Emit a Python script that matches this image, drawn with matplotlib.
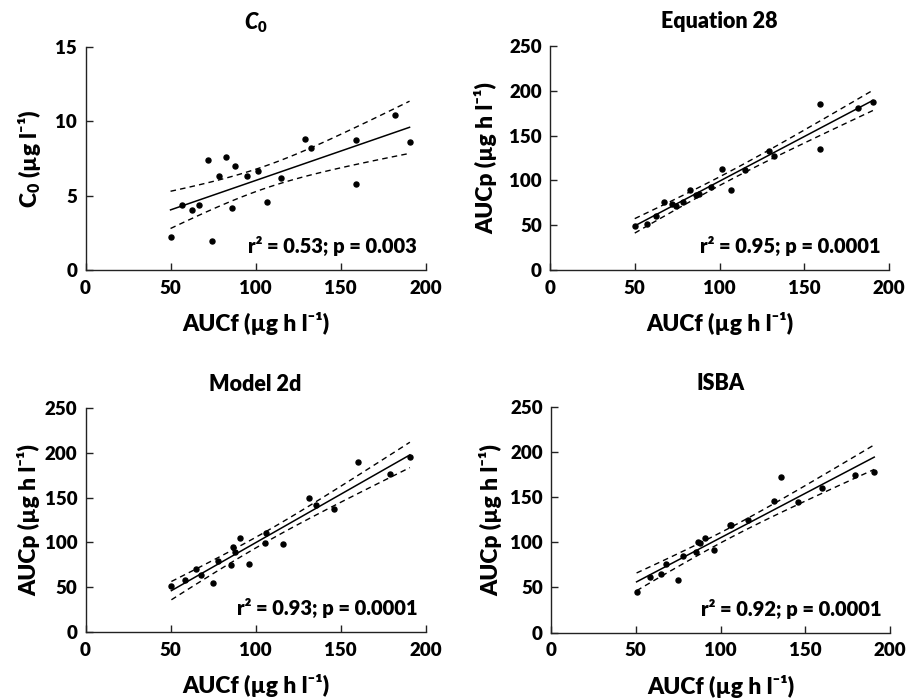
import numpy as np
import matplotlib
matplotlib.use("Agg")
import matplotlib.pyplot as plt

FAM = 'Lato'
WT = 800
plt.rcParams['font.family'] = FAM
plt.rcParams['font.weight'] = WT
plt.rcParams['mathtext.fontset'] = 'custom'
plt.rcParams['mathtext.rm'] = 'Lato:heavy'
plt.rcParams['mathtext.bf'] = 'Lato:heavy'
plt.rcParams['mathtext.it'] = 'Lato:italic:heavy'
plt.rcParams['mathtext.default'] = 'bf'

# ---- data ----
auc_f_a = [50, 57, 62.5, 67, 72, 74.3, 78.6, 82.5, 86, 88, 95, 101.6, 106.5, 115,
           129.3, 132.3, 159, 159, 182, 190.5]
c0 = [2.24, 4.39, 4.05, 4.39, 7.43, 1.95, 6.31, 7.61, 4.18, 7.0, 6.31, 6.64, 4.56,
      6.2, 8.84, 8.21, 8.72, 5.79, 10.45, 8.63]
auc_eq28 = [49, 50.8, 60.1, 76, 73.4, 70.9, 76, 89, 83.5, 85.3, 92.4, 112.4, 89.8,
            111.3, 133.2, 127.6, 185.1, 135, 181, 188]

auc_f_b = [50.5, 58.3, 64.8, 68.1, 75.1, 77.7, 85.6, 87, 87.7, 90.7, 96.4, 105.8,
           106, 116, 131.6, 135.5, 145.8, 160, 179.3, 190.7]
auc_model2d = [51.5, 57.9, 70.2, 63.5, 54.5, 79.5, 74.3, 95.2, 88.9, 105.2, 75.8,
               99, 110.8, 97.8, 149.7, 142.2, 137.7, 189.2, 176.5, 195.2]
auc_isba = [44.9, 61.8, 64.4, 75.5, 58.5, 84.4, 88.8, 99.9, 99.5, 104.3, 91.4,
            119.4, 119.0, 124.3, 146, 172.2, 144.2, 159.7, 174.4, 178.1]

titles = ['$\\mathit{C}_\\mathbf{0}$', 'Equation 28', 'Model 2d', 'ISBA']
ylabels = ['C$_\\mathbf{0}$ (µg l⁻¹)', 'AUCp (µg h l⁻¹)',
           'AUCp (µg h l⁻¹)', 'AUCp (µg h l⁻¹)']
xlabel = 'AUCf (µg h l⁻¹)'
stats = ['r² = 0.53; p = 0.003', 'r² = 0.95; p = 0.0001',
         'r² = 0.93; p = 0.0001', 'r² = 0.92; p = 0.0001']
ymax = [15, 250, 250, 250]
yticks = [[0, 5, 10, 15], [0, 50, 100, 150, 200, 250],
          [0, 50, 100, 150, 200, 250], [0, 50, 100, 150, 200, 250]]
xticks = [0, 50, 100, 150, 200]
t_crit = 2.101  # t(0.975, df=18)

xs = [auc_f_a, auc_f_a, auc_f_b, auc_f_b]
ys = [c0, auc_eq28, auc_model2d, auc_isba]

fig = plt.figure(figsize=(9.11, 7.0), dpi=100)
W, H = 911, 700
boxes = [(85.5, 47, 425.7, 270), (550, 46, 889, 270),
         (85.5, 408, 425.7, 632), (551, 407, 890, 632.5)]
ylab_x = [-0.125, -0.156, -0.134, -0.145]
title_pad = [13, 13, 12, 12]

for i in range(4):
    l, t, r, b = boxes[i]
    ax = fig.add_axes([l / W, (H - b) / H, (r - l) / W, (b - t) / H])
    x = np.array(xs[i], float)
    y = np.array(ys[i], float)
    ax.plot(x, y, 'o', color='black', markersize=3.6, zorder=3)
    # regression and 95% confidence band of the mean
    slope, inter = np.polyfit(x, y, 1)
    n = len(x)
    res = y - (slope * x + inter)
    s = np.sqrt(np.sum(res ** 2) / (n - 2))
    sxx = np.sum((x - x.mean()) ** 2)
    xx = np.linspace(x.min(), x.max(), 100)
    yy = slope * xx + inter
    hw = t_crit * s * np.sqrt(1.0 / n + (xx - x.mean()) ** 2 / sxx)
    ax.plot(xx, yy, '-', color='black', lw=1.1)
    ax.plot(xx, yy + hw, '--', color='black', lw=1.0, dashes=(4, 3))
    ax.plot(xx, yy - hw, '--', color='black', lw=1.0, dashes=(4, 3))

    ax.set_xlim(0, 200)
    ax.set_ylim(0, ymax[i])
    ax.set_xticks(xticks)
    ax.set_yticks(yticks[i])
    for sp in ['top', 'right']:
        ax.spines[sp].set_visible(False)
    for sp in ['left', 'bottom']:
        ax.spines[sp].set_linewidth(1.0)
        ax.spines[sp].set_color('#222222')
    ax.tick_params(direction='in', length=5, width=1.0, color='#222222',
                   labelsize=13.5)
    ax.tick_params(axis='x', pad=7)
    ax.tick_params(axis='y', pad=6)
    for lab in ax.get_xticklabels() + ax.get_yticklabels():
        lab.set_fontweight(WT)
        lab.set_family(FAM)
    ax.set_title(titles[i], fontsize=15.5, fontweight=WT, family=FAM,
                 pad=title_pad[i])
    ax.set_xlabel(xlabel, fontsize=16.5, fontweight=WT, family=FAM, labelpad=11)
    ax.set_ylabel(ylabels[i], fontsize=16.5, fontweight=WT, family=FAM)
    ax.yaxis.set_label_coords(ylab_x[i], 0.5)
    ax.text(0.975, 0.075, stats[i], transform=ax.transAxes, ha='right',
            va='baseline', fontsize=14.5, fontweight=WT, family=FAM)

fig.savefig('out.png', dpi=100)
